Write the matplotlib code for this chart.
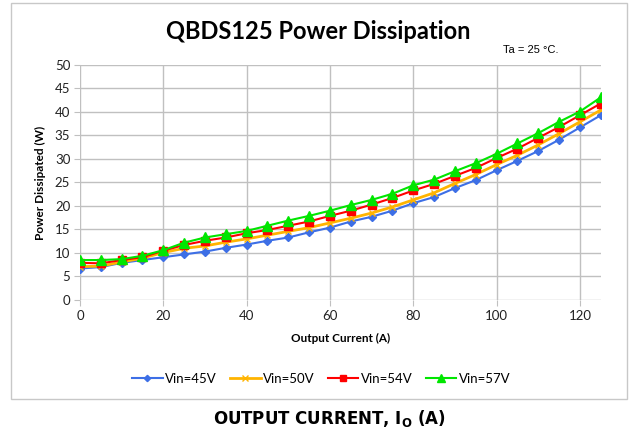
import matplotlib.pyplot as plt
from matplotlib.patches import Rectangle

plt.rcParams['font.family'] = ['Lato', 'DejaVu Sans']
plt.rcParams['mathtext.fontset'] = 'custom'
plt.rcParams['mathtext.rm'] = 'DejaVu Sans'
plt.rcParams['mathtext.bf'] = 'DejaVu Sans:bold'

current = [0, 5, 10, 15, 20, 25, 30, 35, 40, 45, 50, 55, 60,
           65, 70, 75, 80, 85, 90, 95, 100, 105, 110, 115, 120, 125]
vin45 = [6.7, 7.0, 7.9, 8.5, 9.1, 9.7, 10.3, 11.1, 11.8, 12.6, 13.3, 14.4, 15.4,
         16.7, 17.7, 19.0, 20.6, 21.9, 23.8, 25.5, 27.6, 29.6, 31.7, 34.1, 36.7, 39.3]
vin50 = [7.1, 7.2, 8.1, 8.9, 10.1, 11.0, 11.5, 12.3, 13.0, 13.8, 14.6, 15.4, 16.4,
         17.4, 18.5, 19.8, 21.3, 22.8, 24.8, 26.7, 28.8, 30.8, 33.0, 35.4, 37.9, 40.4]
vin54 = [7.9, 7.8, 8.5, 9.1, 10.5, 11.7, 12.6, 13.3, 14.2, 14.9, 15.8, 16.7, 17.9,
         19.0, 20.3, 21.7, 23.3, 24.7, 26.4, 28.1, 30.2, 32.2, 34.5, 36.8, 39.3, 41.8]
vin57 = [8.5, 8.5, 8.7, 9.4, 10.6, 12.2, 13.3, 14.0, 14.7, 15.8, 16.9, 17.9, 19.0,
         20.2, 21.3, 22.6, 24.4, 25.6, 27.4, 29.1, 31.1, 33.3, 35.5, 37.9, 40.1, 43.1]

fig = plt.figure(figsize=(6.34, 4.37), dpi=100)
ax = fig.add_axes([0.1262, 0.3135, 0.8213, 0.5378])

ax.plot(current, vin45, color='#3d6fe6', marker='D', markersize=4, lw=1.5, label='Vin=45V')
ax.plot(current, vin50, color='#ffb400', marker='x', markersize=5, lw=2, label='Vin=50V')
ax.plot(current, vin54, color='#ff0000', marker='s', markersize=6, lw=1.5, label='Vin=54V')
ax.plot(current, vin57, color='#00e600', marker='^', markersize=7, lw=1.5, label='Vin=57V')

ax.set_xlim(0, 125)
ax.set_ylim(0, 50)
ax.set_xticks(range(0, 121, 20))
ax.set_yticks(range(0, 51, 5))
ax.grid(True, color='#c0c0c0', lw=1)
ax.set_axisbelow(True)
for s in ax.spines.values():
    s.set_visible(False)
ax.tick_params(length=4, color='#c0c0c0', labelsize=9.5, labelcolor='#222222', pad=3)

ax.set_xlabel('Output Current (A)', fontsize=8.5, fontweight='bold', labelpad=8)
ax.set_ylabel('Power Dissipated (W)', fontsize=8.5, fontweight='bold', labelpad=6)

fig.text(0.502, 0.928, 'QBDS125 Power Dissipation', ha='center', va='center',
         fontsize=17, fontweight='bold')
fig.text(0.793, 0.886, 'Ta = 25 °C.', ha='left', va='center', fontsize=8,
         family='Liberation Sans')

leg = fig.legend(loc='center', bbox_to_anchor=(0.507, 0.133), ncol=4, frameon=False,
                 fontsize=9.5, handlelength=2.3, columnspacing=1.0, handletextpad=0.2,
                 markerscale=0.8)

fig.patches.append(Rectangle((0.0174, 0.087), 0.9716, 0.905, transform=fig.transFigure,
                             fill=False, edgecolor='#c8c8c8', lw=1))

fig.text(0.519, 0.043, r'OUTPUT CURRENT, I$_{\mathbf{O}}$ (A)', ha='center', va='center',
         fontsize=12, fontweight='bold', family='DejaVu Sans')

fig.savefig('out.png', dpi=100)
